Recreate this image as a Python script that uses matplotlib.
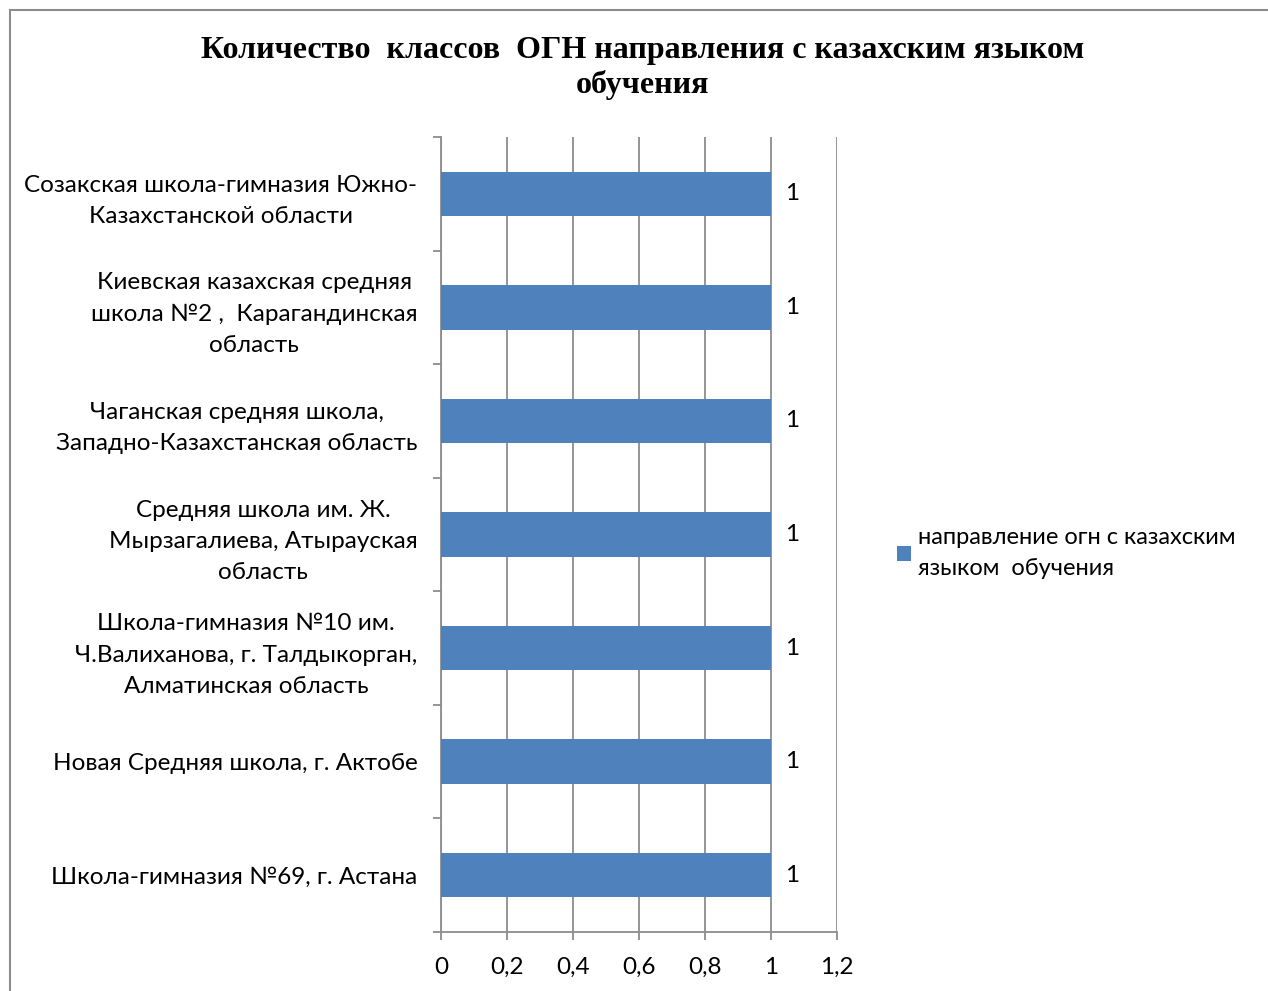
import matplotlib.pyplot as plt
from matplotlib.patches import Rectangle
from matplotlib.ticker import FuncFormatter, FixedLocator
import numpy as np

# data, top to bottom as in the chart
schools = [
    "Созакская школа-гимназия Южно-\nКазахстанской области",
    "Киевская казахская средняя\nшкола №2 ,  Карагандинская\nобласть",
    "Чаганская средняя школа,\nЗападно-Казахстанская область",
    "Средняя школа им. Ж.\nМырзагалиева, Атырауская\nобласть",
    "Школа-гимназия №10 им.\nЧ.Валиханова, г. Талдыкорган,\nАлматинская область",
    "Новая Средняя школа, г. Актобе",
    "Школа-гимназия №69, г. Астана",
]
class_counts = [1, 1, 1, 1, 1, 1, 1]
series_name = "направление огн с казахским\nязыком  обучения"
title = "Количество  классов  ОГН направления с казахским языком\nобучения"

BLUE = "#4F81BD"
GRID = "#8c8c8c"
label_font = ["Lato", "DejaVu Sans"]
FS = 17.5

fig = plt.figure(figsize=(12.68, 9.91), dpi=100)
ax = fig.add_axes([441 / 1268, 1 - 932 / 991, (837 - 441) / 1268, (932 - 137) / 991])

# chart outer border
fig.add_artist(Rectangle((10 / 1268, -0.1), 1.2, 1 - 10 / 991 + 0.1,
                         transform=fig.transFigure, fill=False,
                         edgecolor="#8c8c8c", linewidth=1.5))

y = np.arange(len(schools))[::-1]
bars = ax.barh(y, class_counts, height=0.39, color=BLUE, zorder=3,
               label=series_name)

for yi, v in zip(y, class_counts):
    ax.text(v + 0.065, yi, str(v), va="center", ha="center",
            fontsize=FS, family=label_font)

ax.set_xlim(0, 1.2)
ax.set_ylim(-0.5, len(schools) - 0.5)
ax.set_xticks(np.arange(0, 1.21, 0.2))
ax.xaxis.set_major_formatter(FuncFormatter(
    lambda v, p: ("%g" % round(v, 1)).replace(".", ",")))
ax.grid(axis="x", color=GRID, linewidth=1.3, zorder=0)

ax.yaxis.set_major_locator(FixedLocator(y))
ax.set_yticklabels(schools, multialignment="center", family=label_font,
                   fontsize=FS, linespacing=1.6)
ax.yaxis.set_minor_locator(FixedLocator(np.arange(-0.5, len(schools), 1)))
ax.tick_params(axis="y", which="major", length=0, pad=17)
ax.tick_params(axis="y", which="minor", length=6, color=GRID, width=1.3)
ax.tick_params(axis="x", length=6, color=GRID, width=1.3, pad=12)
for lbl in ax.get_xticklabels():
    lbl.set_family(label_font)
    lbl.set_fontsize(FS)

for s in ["top", "right"]:
    ax.spines[s].set_visible(False)
for s in ["left", "bottom"]:
    ax.spines[s].set_color(GRID)
    ax.spines[s].set_linewidth(1.3)

fig.text(0.507, 1 - 68 / 991, title, ha="center", va="center",
         fontsize=23, fontweight="bold", family="Liberation Serif",
         linespacing=1.25)

leg = fig.legend(loc="center left", bbox_to_anchor=(876 / 1268, 1 - 553 / 991),
                 frameon=False, prop={"family": label_font, "size": 17},
                 handlelength=0.6, handleheight=0.6, handletextpad=0.3)
for t in leg.get_texts():
    t.set_linespacing(1.6)

fig.savefig("out.png", dpi=100)
